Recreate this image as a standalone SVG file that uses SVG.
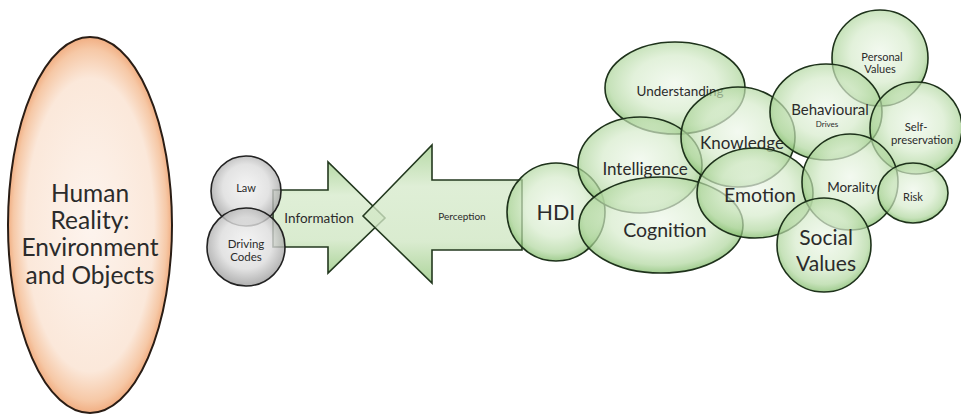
<svg xmlns="http://www.w3.org/2000/svg" width="961" height="417" viewBox="0 0 961 417">
  <defs>
    <radialGradient id="gGreen" cx="50%" cy="45%" r="55%">
      <stop offset="0" stop-color="#eef7ea"/>
      <stop offset="0.55" stop-color="#d6ebcb"/>
      <stop offset="0.85" stop-color="#afd69d"/>
      <stop offset="1" stop-color="#7ab862"/>
    </radialGradient>
    <linearGradient id="gArrow" x1="0" y1="0" x2="0" y2="1">
      <stop offset="0" stop-color="#a3d08e"/>
      <stop offset="0.3" stop-color="#d6eacb"/>
      <stop offset="0.7" stop-color="#cfe6c2"/>
      <stop offset="1" stop-color="#96c87f"/>
    </linearGradient>
    <radialGradient id="gGray" cx="50%" cy="45%" r="55%">
      <stop offset="0" stop-color="#f2f2f2"/>
      <stop offset="0.6" stop-color="#dcdcdc"/>
      <stop offset="1" stop-color="#9c9c9c"/>
    </radialGradient>
    <radialGradient id="gOrange" cx="50%" cy="50%" r="52%">
      <stop offset="0" stop-color="#fdf4ee"/>
      <stop offset="0.75" stop-color="#fbe8da"/>
      <stop offset="0.9" stop-color="#f6c8a6"/>
      <stop offset="1" stop-color="#ee9e6c"/>
    </radialGradient>
  </defs>
  <style>
    .bubble { fill: url(#gGreen); fill-opacity: 0.7; stroke: #1e321b; stroke-width: 1.6; }
    .gray { fill: url(#gGray); fill-opacity: 0.8; stroke: #222; stroke-width: 1.6; }
    .arrow { fill: url(#gArrow); fill-opacity: 0.78; stroke: #23391f; stroke-width: 1.6; stroke-linejoin: miter; }
    .origin { fill: url(#gOrange); stroke: #2a1d15; stroke-width: 2; }
    text { font-family: "Lato", "Open Sans", "Liberation Sans", sans-serif; fill: #2b2b2b; text-anchor: middle; }
  </style>

  <rect width="961" height="417" fill="#ffffff"/>

  <!-- source: the environment -->
  <g id="human-reality">
    <ellipse class="origin" cx="90" cy="225" rx="82" ry="188"/>
    <text font-size="24.5" x="90" y="202">Human</text>
    <text font-size="24.5" x="90" y="229">Reality:</text>
    <text font-size="24.5" x="90" y="256">Environment</text>
    <text font-size="24.5" x="90" y="284">and Objects</text>
  </g>

  <!-- block arrows between environment and interface -->
  <g id="connectors">
    <g id="information">
      <polygon class="arrow" points="273,190 328,190 328,162 385,218 328,273 328,247 273,247"/>
      <text font-size="13.5" x="319" y="223">Information</text>
    </g>
    <g id="perception">
      <polygon class="arrow" points="363,216 432,145 432,180 522,180 522,250 432,250 432,283"/>
      <text font-size="10" x="462" y="220">Perception</text>
    </g>
  </g>

  <g id="law">
    <circle class="gray" cx="246" cy="191" r="35"/>
    <text font-size="11" x="246" y="192">Law</text>
  </g>
  <g id="driving-codes">
    <circle class="gray" cx="246" cy="247" r="39"/>
    <text font-size="11.5" x="246" y="248">Driving</text>
    <text font-size="11.5" x="246" y="261">Codes</text>
  </g>

  <!-- human-device interface and cognitive cluster -->
  <g id="hdi">
    <circle class="bubble" cx="556" cy="212" r="49"/>
    <text font-size="21.5" x="556" y="220">HDI</text>
  </g>
  <g id="understanding">
    <ellipse class="bubble" cx="675" cy="88" rx="70" ry="46"/>
    <text font-size="13.5" x="680" y="96">Understanding</text>
  </g>
  <g id="intelligence">
    <ellipse class="bubble" cx="640" cy="165" rx="62" ry="48"/>
    <text font-size="17" x="645" y="175">Intelligence</text>
  </g>
  <g id="cognition">
    <ellipse class="bubble" cx="661" cy="225" rx="82" ry="48"/>
    <text font-size="19.5" x="665" y="237">Cognition</text>
  </g>
  <g id="knowledge">
    <ellipse class="bubble" cx="738" cy="137" rx="57" ry="50"/>
    <text font-size="17" x="742" y="149">Knowledge</text>
  </g>
  <g id="emotion">
    <ellipse class="bubble" cx="755" cy="193" rx="58" ry="45"/>
    <text font-size="19.5" x="760" y="202">Emotion</text>
  </g>

  <!-- values and drives -->
  <g id="personal-values">
    <circle class="bubble" cx="880" cy="58" r="48"/>
    <text font-size="11" x="882" y="61">Personal</text>
    <text font-size="11" x="880" y="73">Values</text>
  </g>
  <g id="behavioural-drives">
    <ellipse class="bubble" cx="826" cy="112" rx="56" ry="48"/>
    <text font-size="15" x="830" y="115">Behavioural</text>
    <text font-size="8" x="827" y="127">Drives</text>
  </g>
  <g id="self-preservation">
    <circle class="bubble" cx="916" cy="128" r="46"/>
    <text font-size="11.3" x="916" y="131">Self-</text>
    <text font-size="11.3" x="922" y="144">preservation</text>
  </g>
  <g id="morality">
    <circle class="bubble" cx="850" cy="182" r="48"/>
    <text font-size="13.5" x="852" y="192">Morality</text>
  </g>
  <g id="risk">
    <ellipse class="bubble" cx="913" cy="193" rx="35" ry="30"/>
    <text font-size="11" x="913" y="201">Risk</text>
  </g>
  <g id="social-values">
    <circle class="bubble" cx="824" cy="245" r="47"/>
    <text font-size="21" x="826" y="245">Social</text>
    <text font-size="21" x="826" y="271">Values</text>
  </g>
</svg>
